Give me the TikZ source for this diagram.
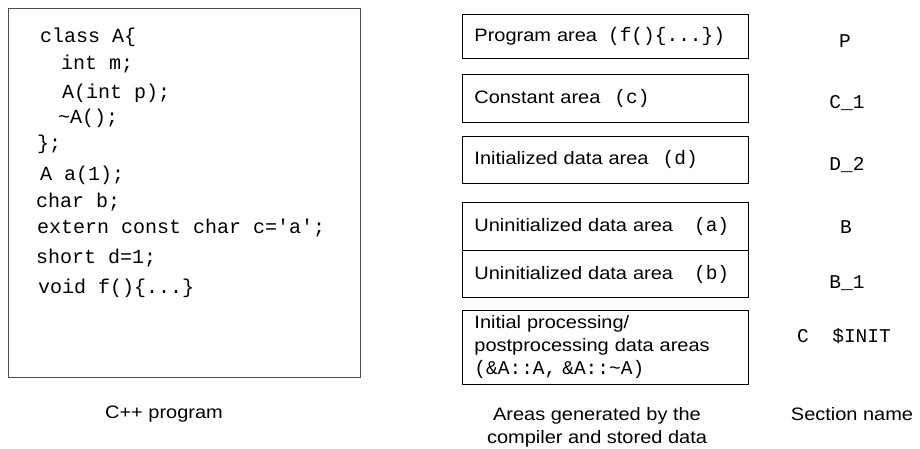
\documentclass[tikz,border=0pt]{standalone}
\usepackage{fontspec}
\newfontfamily\sansfnt[FakeStretch=1.11]{Liberation Sans}
\newfontfamily\monofnt{Liberation Mono}
\newcommand\codetxt[1]{{\monofnt\fontsize{19.5}{20}\selectfont #1}}
\usetikzlibrary{positioning}

\begin{document}
\begin{tikzpicture}[x=1pt, y=-1pt,
    area/.style = {draw, line width=0.9pt, anchor=north west, minimum width=286pt,
                   text width=262pt, inner xsep=12pt, inner ysep=0pt, align=left,
                   font=\sansfnt\fontsize{18}{23}\selectfont},
    code/.style = {anchor=base west, inner sep=0pt, font=\monofnt\fontsize{20}{22}\selectfont},
    sect/.style = {anchor=base, inner sep=0pt, font=\monofnt\fontsize{19.5}{22}\selectfont},
    caption/.style = {anchor=base, align=center, inner sep=0pt,
                      font=\sansfnt\fontsize{18}{23}\selectfont}]
    \useasboundingbox (0,0) rectangle (920,448);
    % source program
    \node (src) [draw=black!70, line width=0.9pt, anchor=north west, inner sep=0pt,
                 minimum width=352pt, minimum height=369pt] at (8,8) {};
    \node (c1)  [code] at (40,42)  {class A\{};
    \node (c2)  [code] at (61,69)  {int m;};
    \node (c3)  [code] at (62,98)  {A(int p);};
    \node (c4)  [code] at (58,123) {\textasciitilde A();};
    \node (c5)  [code] at (37,149) {\};};
    \node (c6)  [code] at (40,180) {A a(1);};
    \node (c7)  [code] at (36,207) {char b;};
    \node (c8)  [code] at (37,233) {extern const char c=\textquotesingle a\textquotesingle;};
    \node (c9)  [code] at (36,263) {short d=1;};
    \node (c10) [code] at (38,293) {void f()\{...\}};
    % areas
    \node (prog)  [area, minimum height=44pt] at (462,14)  {Program area\hspace{11pt}\codetxt{(f()\{...\})}};
    \node (const) [area, minimum height=48pt] at (462,74)  {Constant area\hspace{14pt}\codetxt{(c)}};
    \node (init)  [area, minimum height=47pt] at (462,136) {Initialized data area\hspace{14pt}\codetxt{(d)}};
    \node (bssa)  [area, minimum height=48pt] at (462,202) {Uninitialized data area\hspace{21pt}\codetxt{(a)}};
    \node (bssb)  [area, minimum height=47pt] at (462,250) {Uninitialized data area\hspace{21pt}\codetxt{(b)}};
    \node (cinit) [area, minimum height=74pt] at (462,310)
        {Initial processing/\\postprocessing data areas\\\codetxt{(\&A::A, \&A::\textasciitilde A)}};
    % section names
    \node (sP)    [sect] at (845,47.5)  {P};
    \node (sC1)   [sect] at (847,108)   {C\_1};
    \node (sD2)   [sect] at (847,170.5) {D\_2};
    \node (sB)    [sect] at (846,233.5) {B};
    \node (sB1)   [sect] at (847,288.5) {B\_1};
    \node (sCI)   [sect] at (844,342.5) {C\ \ \$INIT};
    % captions
    \node (capsrc)  [caption] at (164,418)   {C++ program};
    \node (caparea) [caption] at (597,443)   {Areas generated by the\\compiler and stored data};
    \node (capsect) [caption] at (852,420)   {Section name};
\end{tikzpicture}
\end{document}
